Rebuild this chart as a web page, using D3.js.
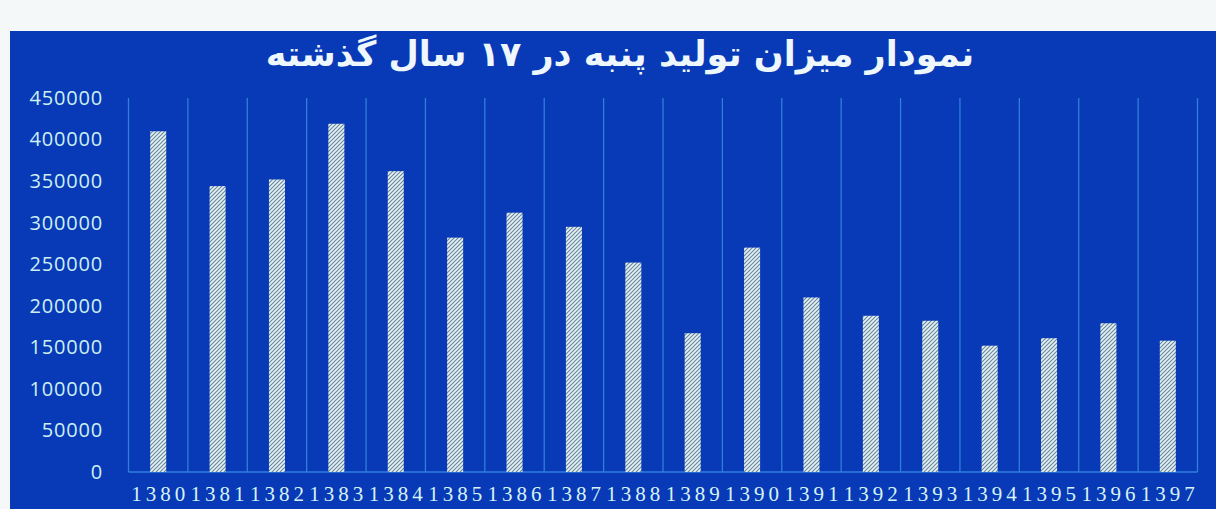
<!DOCTYPE html>
<html>
<head>
<meta charset="utf-8">
<script src="https://cdn.jsdelivr.net/npm/d3@7"></script>
<style>
  html, body { margin: 0; padding: 0; background: #f5f8f8; }
  svg { display: block; }
</style>
</head>
<body>
<div id="chart"></div>
<script>
// years (categories) and cotton production values
var years = ["1380","1381","1382","1383","1384","1385","1386","1387","1388",
             "1389","1390","1391","1392","1393","1394","1395","1396","1397"];
var production = [410000, 344000, 352000, 419000, 362000, 282000, 312000, 295000, 252000,
                  167000, 270000, 210000, 188000, 182000, 152000, 161000, 179000, 158000];
var yTicks = [0, 50000, 100000, 150000, 200000, 250000, 300000, 350000, 400000, 450000];
var title = "نمودار میزان تولید پنبه در ۱۷ سال گذشته";

var width = 1216, height = 509;

var svg = d3.select("#chart").append("svg")
    .attr("width", width)
    .attr("height", height);

/* hatch pattern for the bars */
var defs = svg.append("defs");
var hatch = defs.append("pattern")
    .attr("id", "hatch")
    .attr("patternUnits", "userSpaceOnUse")
    .attr("width", 4)
    .attr("height", 4);
hatch.append("rect")
    .attr("width", 4)
    .attr("height", 4)
    .attr("fill", "#e6f3f3");
hatch.append("path")
    .attr("d", "M-1,1 l2,-2 M0,4 l4,-4 M3,5 l2,-2")
    .attr("stroke", "#6b86a0")
    .attr("stroke-width", 1.2);

/* blue chart area (white strip on the left and top) */
svg.append("rect")
    .attr("x", 10)
    .attr("y", 31)
    .attr("width", width - 10)
    .attr("height", height - 31)
    .attr("fill", "#0839b6");

svg.append("text")
    .attr("x", 620)
    .attr("y", 66)
    .attr("text-anchor", "middle")
    .attr("direction", "rtl")
    .attr("font-family", "DejaVu Sans")
    .attr("font-weight", "bold")
    .attr("font-size", 35)
    .attr("fill", "#eef7fb")
    .text(title);

var x = d3.scaleBand()
    .domain(years)
    .range([128.5, 1197.5])
    .paddingInner(0.73)
    .paddingOuter(0.365);

var y = d3.scaleLinear()
    .domain([0, 450000])
    .range([472, 98]);

// vertical grid lines at the category boundaries
var step = x.step();
var bounds = d3.range(years.length + 1).map(function(i){ return x.range()[0] + i * step; });
svg.append("g").selectAll("line")
    .data(bounds)
    .enter().append("line")
    .attr("x1", function(d){ return d; })
    .attr("x2", function(d){ return d; })
    .attr("y1", y(450000))
    .attr("y2", y(0))
    .attr("stroke", "#2f7fdc")
    .attr("stroke-width", 1.3);

// bottom axis line
svg.append("line")
    .attr("x1", x.range()[0])
    .attr("x2", x.range()[1])
    .attr("y1", y(0))
    .attr("y2", y(0))
    .attr("stroke", "#2f7fdc")
    .attr("stroke-width", 1.3);

// bars
svg.append("g").selectAll("rect")
    .data(production)
    .enter().append("rect")
    .attr("x", function(d, i){ return x(years[i]); })
    .attr("width", x.bandwidth())
    .attr("y", function(d){ return y(d); })
    .attr("height", function(d){ return y(0) - y(d); })
    .attr("fill", "url(#hatch)");

// y axis labels
var yAxis = svg.append("g")
    .attr("transform", "translate(128,0)")
    .call(d3.axisLeft(y).tickValues(yTicks).tickSize(0).tickPadding(25)
        .tickFormat(d3.format("d")));
yAxis.select(".domain").remove();
yAxis.selectAll("text")
    .attr("font-family", "Open Sans")
    .attr("font-size", 20)
    .attr("letter-spacing", 0.8)
    .attr("fill", "#cdf0f3");

// x axis labels
var xAxis = svg.append("g")
    .attr("transform", "translate(0," + y(0) + ")")
    .call(d3.axisBottom(x).tickSize(0).tickPadding(14));
xAxis.select(".domain").remove();
xAxis.selectAll("text")
    .attr("font-family", "Liberation Serif")
    .attr("font-size", 21)
    .attr("letter-spacing", 4)
    .attr("dx", 2)
    .attr("fill", "#d6f3f5");
</script>
</body>
</html>
